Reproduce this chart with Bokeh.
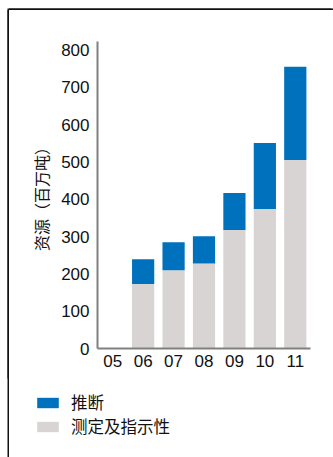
from bokeh.plotting import figure
from bokeh.models import ColumnDataSource, Legend, LegendItem, Range1d, FactorRange
from bokeh.embed import file_html
from bokeh.resources import INLINE

years = ["05", "06", "07", "08", "09", "10", "11"]
measured = [0, 173, 210, 228, 318, 374, 505]
inferred = [0, 66, 75, 73, 99, 177, 250]
y_ticks = [0, 100, 200, 300, 400, 500, 600, 700, 800]
y_label = "资源（百万吨）"
legend_labels = ["推断", "测定及指示性"]

BLUE = "#0071BC"
GREY = "#D8D4D4"
INK = "#111111"

src = ColumnDataSource(dict(years=years, measured=measured, inferred=inferred))

p = figure(width=324, height=370, x_range=FactorRange(*years, range_padding=0.0),
           y_range=Range1d(0, 823), output_backend="svg", toolbar_location=None,
           min_border_left=88, min_border_right=23, min_border_top=31, min_border_bottom=32)
p.margin = (10, 0, 0, 9)
p.styles = {"box-shadow": f"-1.5px 0 0 0 {INK}, 0 -1.5px 0 0 {INK}, -1.5px -1.5px 0 0 {INK}"}

r = p.vbar_stack(["measured", "inferred"], x="years", width=0.73, source=src,
                 color=[GREY, BLUE], line_color=None)

p.xgrid.visible = False
p.ygrid.visible = False
p.outline_line_color = None
p.background_fill_color = "white"
p.border_fill_color = "white"

p.yaxis.ticker = y_ticks
for ax in (p.xaxis, p.yaxis):
    ax.axis_line_color = "#808080"
    ax.axis_line_width = 2
    ax.major_tick_line_color = None
    ax.minor_tick_line_color = None
    ax.major_tick_out = 0
    ax.major_tick_in = 0
    ax.major_label_text_font = "Liberation Sans"
    ax.major_label_text_font_size = "17px"
    ax.major_label_text_color = INK
p.yaxis.major_label_standoff = 8
p.xaxis.major_label_standoff = 6
p.yaxis.axis_label = y_label
p.yaxis.axis_label_text_font = "Noto Sans CJK SC"
p.yaxis.axis_label_text_font_size = "16px"
p.yaxis.axis_label_text_font_style = "normal"
p.yaxis.axis_label_text_color = INK
p.yaxis.axis_label_standoff = 5

# legend panel (separate root so its frame spans the full width);
# proxy bars use the same data but lie entirely outside the visible y range
lf = figure(width=324, height=77, x_range=FactorRange(*years), y_range=Range1d(5000, 6000),
            x_axis_location=None, y_axis_location=None,
            output_backend="svg", toolbar_location=None,
            min_border=0, min_border_left=0, min_border_right=0,
            min_border_top=0, min_border_bottom=0)
lf.margin = (0, 0, 0, 9)
lf.styles = {"box-shadow": f"-1.5px 0 0 0 {INK}"}
lf.grid.visible = False
lf.outline_line_color = None
lf.border_fill_color = "white"
lf.background_fill_color = "white"
lr = lf.vbar_stack(["measured", "inferred"], x="years", width=0.73, source=src,
                   color=[GREY, BLUE], line_color=None)

legend = Legend(items=[LegendItem(label=legend_labels[0], renderers=[lr[1]]),
                       LegendItem(label=legend_labels[1], renderers=[lr[0]])],
                location=(25, 19), orientation="vertical",
                glyph_width=27, glyph_height=13, label_height=13,
                label_standoff=10, spacing=0, padding=0, margin=0,
                border_line_color=None, background_fill_alpha=0,
                label_text_font="Noto Sans CJK SC", label_text_font_size="16.5px",
                label_text_color=INK)
lf.add_layout(legend, "center")

open("out.html", "w").write(file_html([p, lf], INLINE))
